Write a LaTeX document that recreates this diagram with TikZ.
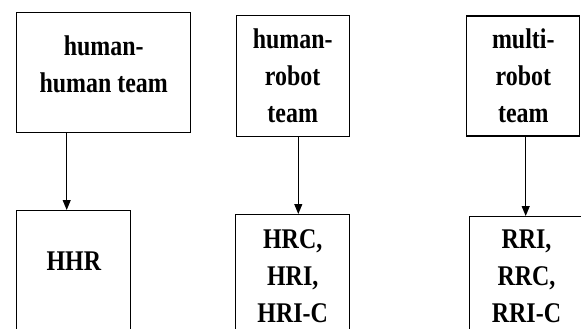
\documentclass[tikz,border=0pt]{standalone}
\usepackage{fontspec}
\setmainfont{Liberation Serif}[FakeStretch=0.84]
\usetikzlibrary{arrows.meta}
\tikzset{
  teambox/.style={draw, line width=1.1pt, inner sep=0pt, align=center,
    font=\bfseries\fontsize{28.5}{37}\selectfont},
  kindbox/.style={teambox, anchor=north, minimum width=114pt, text depth=80pt},
  link/.style={line width=1.1pt, -{Triangle[length=10pt,width=8pt]}}
}
\begin{document}
\begin{tikzpicture}[x=1pt,y=-1pt]
\path[use as bounding box, clip] (0,0) rectangle (581,329);
% top row: the teams
\node[teambox, minimum width=174pt, minimum height=120pt, text depth=17pt] (hh) at (103.7,72.3) {human-\\human team};
\node[teambox, minimum width=113pt, minimum height=121pt] (hr) at (292.7,76.2) {human-\\robot\\team};
\node[teambox, minimum width=113pt, minimum height=120pt] (mr) at (523.3,76) {multi-\\robot\\team};
% bottom row: the interactions
\node[kindbox, text height=60pt] (hhr) at (73.8,210) {HHR};
\node[kindbox, text height=108pt] (hri) at (292.7,214) {HRC,\\HRI,\\HRI-C};
\node[kindbox, text height=106pt] (rri) at (526.5,216) {RRI,\\RRC,\\RRI-C};
% arrows
\coordinate (a1) at (66.7,0);
\coordinate (a2) at (298.3,0);
\coordinate (a3) at (525.7,0);
\draw[link] (hh.south -| a1) -- (hhr.north -| a1);
\draw[link] (hr.south -| a2) -- (hri.north -| a2);
\draw[link] (mr.south -| a3) -- (rri.north -| a3);
\end{tikzpicture}
\end{document}
